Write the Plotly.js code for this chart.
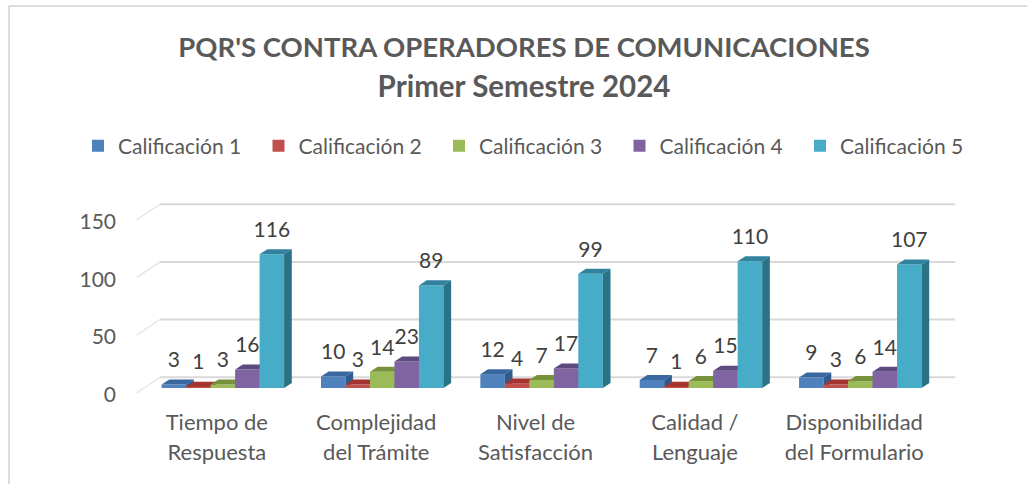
<!DOCTYPE html>
<html>
<head>
<meta charset="utf-8">
<script src="https://cdn.plot.ly/plotly-3.0.1.min.js"></script>
<style>html,body{margin:0;padding:0;background:#fff;overflow:hidden}#chart{width:1027px;height:484px}</style>
</head>
<body>
<div id="chart"></div>
<script>
// ---- data ----
const categoryLines = [
  ["Tiempo de", "Respuesta"],
  ["Complejidad", "del Trámite"],
  ["Nivel de", "Satisfacción"],
  ["Calidad /", "Lenguaje"],
  ["Disponibilidad", "del Formulario"]
];
const seriesNames = ["Calificación 1", "Calificación 2", "Calificación 3", "Calificación 4", "Calificación 5"];
const calificacion1 = [3, 10, 12, 7, 9];
const calificacion2 = [1, 3, 4, 1, 3];
const calificacion3 = [3, 14, 7, 6, 6];
const calificacion4 = [16, 23, 17, 15, 14];
const calificacion5 = [116, 89, 99, 110, 107];
const yTicks = [0, 50, 100, 150];

// ---- styles ----
const frontColors = ["#4f81bd", "#c0504d", "#9bbb59", "#8064a2", "#46acc8"];
const topColors   = ["#38689f", "#a5332f", "#76933c", "#5f4a80", "#30829f"];
const sideColors  = ["#2f5a8c", "#8c2e2b", "#64803a", "#523d70", "#2a7286"];
const FONT = 'Lato, "Noto Sans", sans-serif';
const TEXT = "#595959";

// ---- layout geometry, in axis units ----
const W = 1027, H = 484;
const M = {l: 70, r: 20, t: 190, b: 84};
const xRange = [-0.9595, 4.9205];
const yRange = [-6.33, 175.8];
const barW = 0.1537;          // width of one column
const groupStart = -0.3845;   // first column's left edge, relative to the category
const base = 4.08;            // columns stand a little behind the front plane
const barDX = 0.0483, barDY = 4.34;   // depth of a column
const wallDX = 0.1465, wallDY = 13.44; // depth of the chart box
const wallLeft = -0.541, wallRight = 4.596;
const labelGap = 19.6;
const tickShift = -0.038;

const seriesValues = [calificacion1, calificacion2, calificacion3, calificacion4, calificacion5];
const cats = categoryLines.map((_, i) => i);
const traces = [];

// gridlines: diagonal on the side wall, then along the back wall
yTicks.forEach(v => {
  traces.push({
    type: "scatter", mode: "lines", xaxis: "x", yaxis: "y",
    x: [wallLeft, wallLeft + wallDX],
    y: [v, v + wallDY],
    line: {color: "#e3e3e3", width: 1.3},
    hoverinfo: "skip", showlegend: false
  });
  traces.push({
    type: "scatter", mode: "lines", xaxis: "x", yaxis: "y",
    x: [wallLeft + wallDX, wallRight],
    y: [v + wallDY, v + wallDY],
    line: {color: "#d9d9d9", width: 2},
    hoverinfo: "skip", showlegend: false
  });
});

seriesValues.forEach((vals, k) => {
  const ax = k + 2;
  const xa = "x" + ax, ya = "y" + ax;
  const left = i => i + groupStart + k * barW;
  traces.push({
    type: "bar", name: seriesNames[k], xaxis: xa, yaxis: ya,
    x: cats, y: vals, base: base,
    width: barW, offset: groupStart + k * barW,
    marker: {color: frontColors[k], line: {width: 0}},
    legendgroup: seriesNames[k],
    hovertemplate: seriesNames[k] + ": %{y}<extra></extra>"
  });
  vals.forEach((v, i) => {
    const t = base + v, l = left(i), r = l + barW;
    traces.push({
      type: "scatter", mode: "lines", xaxis: xa, yaxis: ya, fill: "toself",
      x: [r, r + barDX, r + barDX, r, r],
      y: [base, base + barDY, t + barDY, t, base],
      fillcolor: sideColors[k], line: {width: 0, color: sideColors[k]},
      hoverinfo: "skip", showlegend: false, legendgroup: seriesNames[k]
    });
    traces.push({
      type: "scatter", mode: "lines", xaxis: xa, yaxis: ya, fill: "toself",
      x: [l, l + barDX, r + barDX, r, l],
      y: [t, t + barDY, t + barDY, t, t],
      fillcolor: topColors[k], line: {width: 0, color: topColors[k]},
      hoverinfo: "skip", showlegend: false, legendgroup: seriesNames[k]
    });
  });
});

// value labels, on the top layer
seriesValues.forEach((vals, k) => {
  traces.push({
    type: "scatter", mode: "text", xaxis: "x6", yaxis: "y6",
    x: cats.map(i => i + groupStart + (k + 0.5) * barW),
    y: vals.map(v => base + v + labelGap),
    text: vals.map(String),
    textposition: "middle center",
    textfont: {family: FONT, size: 21, color: "#404040"},
    hoverinfo: "skip", showlegend: false, legendgroup: seriesNames[k]
  });
});

const px2x = p => (p - M.l) / (W - M.l - M.r);
const px2y = p => (H - M.b - p) / (H - M.t - M.b);

const layout = {
  width: W, height: H,
  margin: {l: M.l, r: M.r, t: M.t, b: M.b, pad: 0},
  paper_bgcolor: "#fff", plot_bgcolor: "rgba(0,0,0,0)",
  font: {family: FONT, color: TEXT},
  title: {
    text: "<b><span style=\"font-size:27.5px\">PQR'S CONTRA OPERADORES DE COMUNICACIONES</span><br><span style=\"font-size:29.5px\">Primer Semestre 2024</span></b>",
    font: {family: FONT, size: 31, color: TEXT},
    x: 524 / W, xref: "container", xanchor: "center",
    y: 1 - 57 / H, yref: "container", yanchor: "middle"
  },
  showlegend: true,
  legend: {
    orientation: "h", x: px2x(78), xanchor: "left", y: px2y(146), yanchor: "middle",
    font: {family: FONT, size: 21, color: TEXT},
    entrywidth: 135.5, entrywidthmode: "pixels",
    bgcolor: "rgba(0,0,0,0)", traceorder: "normal", itemclick: false, itemdoubleclick: false
  },
  xaxis: {
    range: xRange, showgrid: false, zeroline: false, showline: false, fixedrange: true,
    tickmode: "array",
    tickvals: cats.map(i => i + tickShift),
    ticktext: categoryLines.map(l => l.map(s => '<span style="font-size:22px">' + s + '</span>').join("<br>")),
    tickfont: {family: FONT, size: 23, color: TEXT},
    tickangle: 0, ticks: "outside", ticklen: 1, tickcolor: "rgba(0,0,0,0)"
  },
  yaxis: {
    range: yRange, showgrid: false, zeroline: false, showline: false, fixedrange: true,
    tickmode: "array", tickvals: yTicks, ticktext: yTicks.map(String),
    tickfont: {family: FONT, size: 21, color: TEXT},
    anchor: "free", position: px2x(116), ticks: "",
    ticklabelshift: 2
  },
  shapes: [
    {type: "line", xref: "paper", yref: "paper", x0: px2x(9), x1: px2x(9), y0: px2y(6), y1: px2y(484), line: {color: "#dcdcdc", width: 2}},
    {type: "line", xref: "paper", yref: "paper", x0: px2x(9), x1: px2x(1027), y0: px2y(6), y1: px2y(6), line: {color: "#dcdcdc", width: 2}}
  ]
};

for (let a = 2; a <= 6; a++) {
  layout["xaxis" + a] = {overlaying: "x", anchor: "y" + a, range: xRange, visible: false, fixedrange: true};
  layout["yaxis" + a] = {overlaying: "y", anchor: "x" + a, range: yRange, visible: false, fixedrange: true};
}

Plotly.newPlot("chart", traces, layout, {displayModeBar: false, responsive: false});
</script>
</body>
</html>
